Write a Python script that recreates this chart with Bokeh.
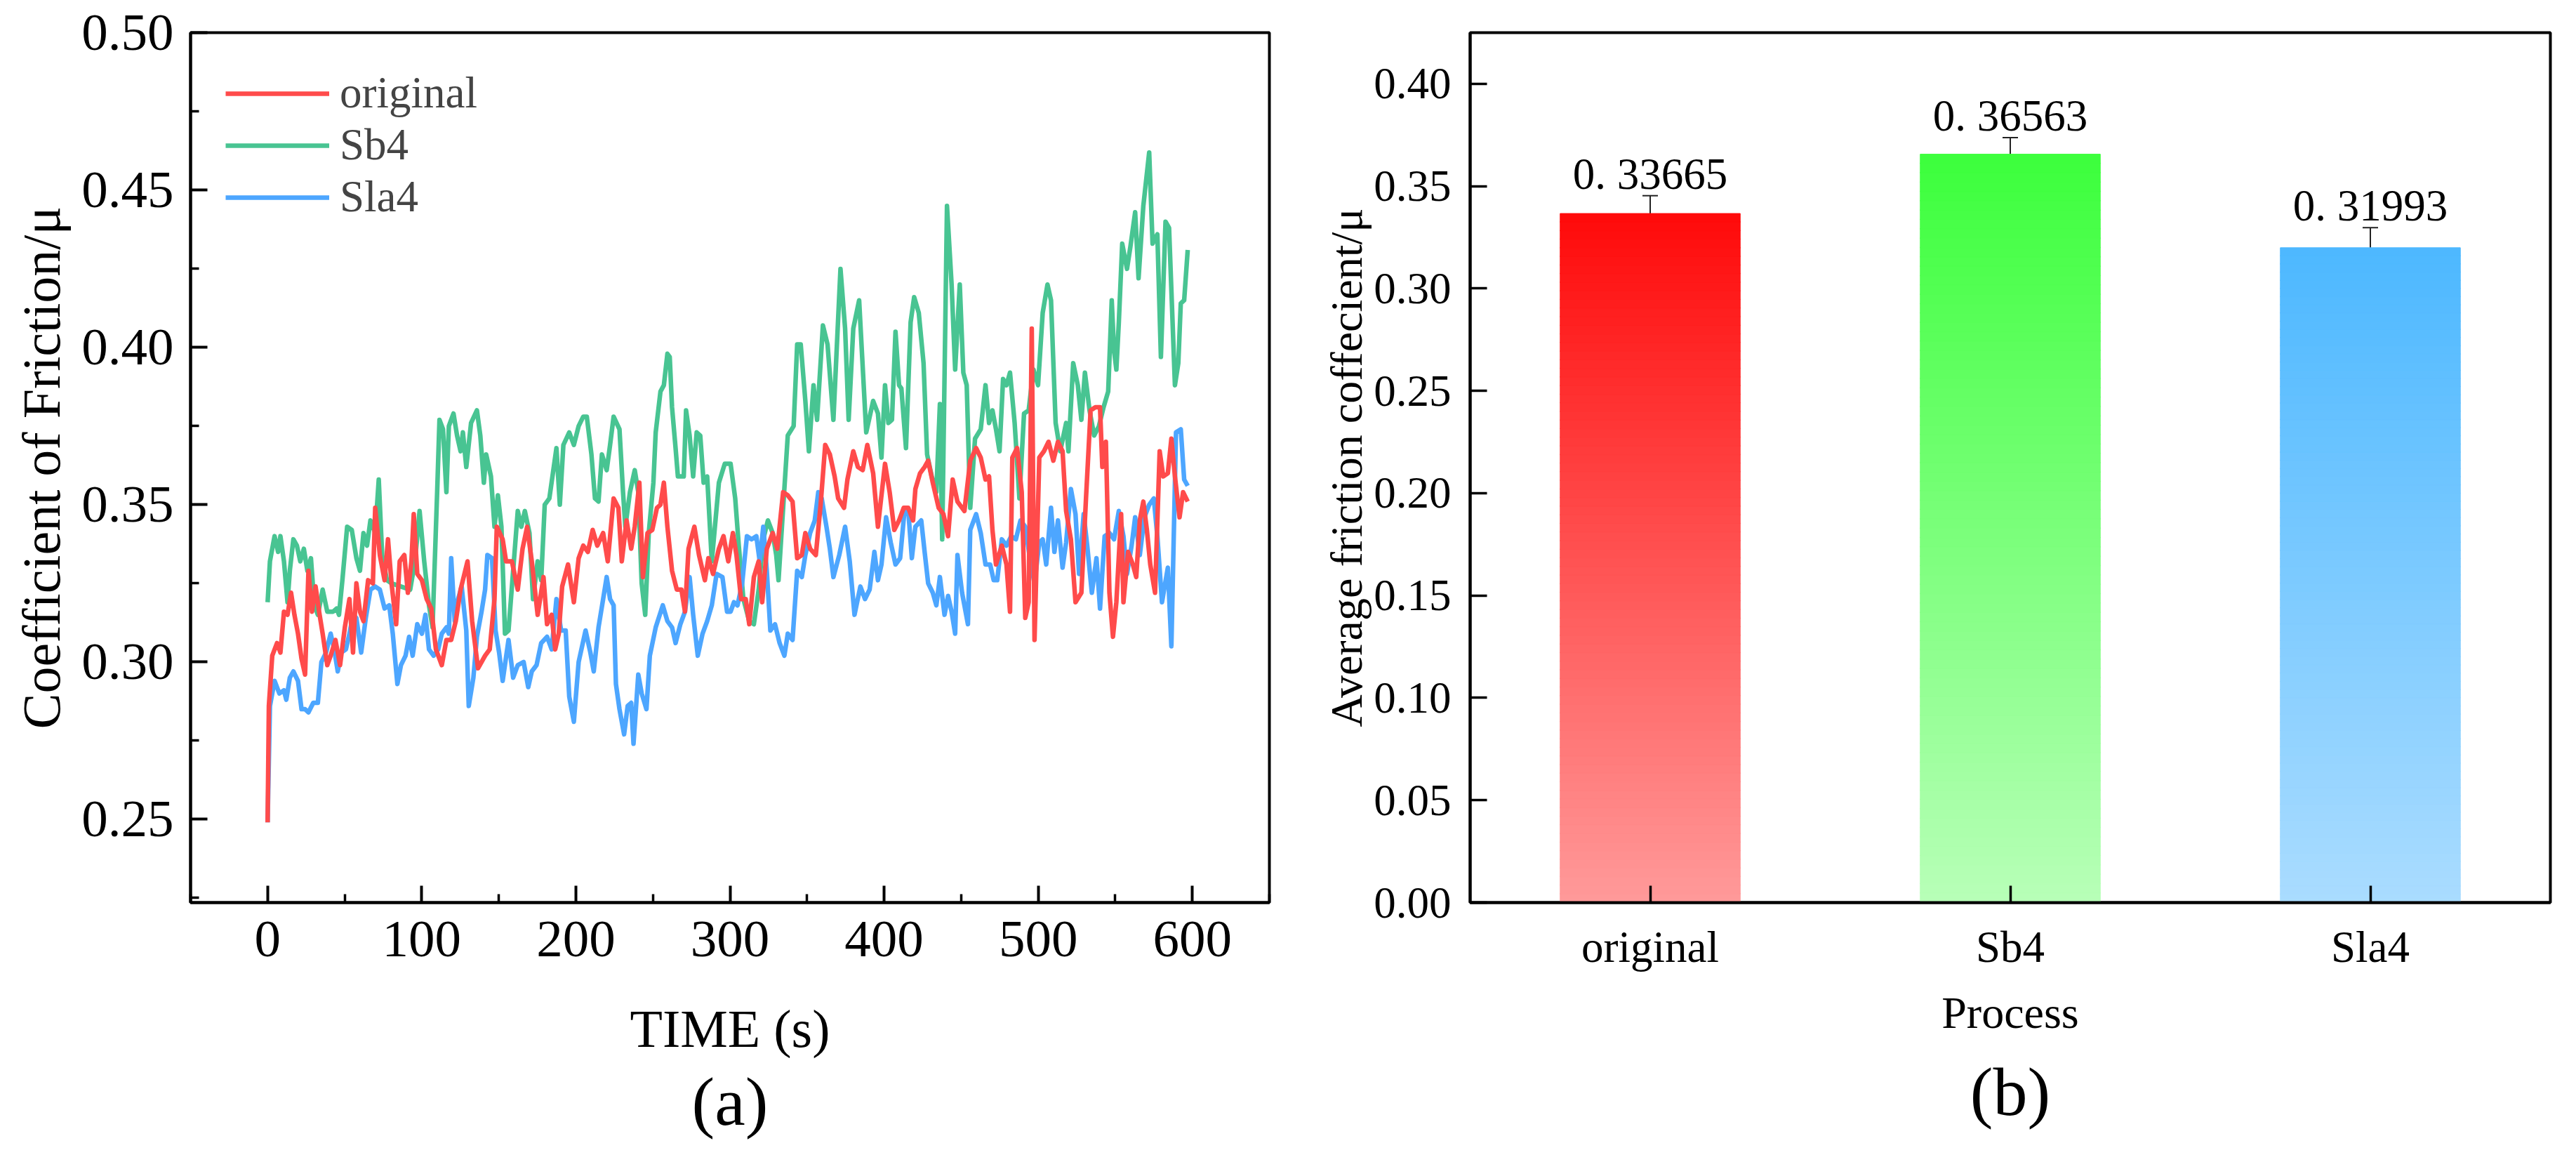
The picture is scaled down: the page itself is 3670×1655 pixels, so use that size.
from bokeh.plotting import figure
from bokeh.layouts import row
from bokeh.models import (Range1d, FactorRange, FixedTicker, Legend, LegendItem, Whisker,
                          TeeHead, LabelSet, ColumnDataSource, Title, PrintfTickFormatter)
from bokeh.core.properties import value
from bokeh.embed import file_html
from bokeh.resources import INLINE

FONT = "Liberation Serif"

# ---------------- data: panel (a) ----------------
t_original = [0, 0.8, 3.0, 6.1, 8.3, 10.6, 12.9, 15.2, 17.4, 19.7, 22.0, 24.3, 26.5, 28.8, 31.1, 33.4, 35.7, 38.7, 40.9, 44.0,
              47.0, 50.1, 53.1, 55.4, 57.6, 59.9, 62.2, 65.2, 68.3, 69.8, 72.8, 75.9, 78.1, 80.4, 83.4, 85.7, 88.7, 91.0, 93.3, 94.8,
              97.1, 100.1, 103.2, 106.2, 109.2, 113.0, 116.0, 119.1, 122.1, 125.2, 129.7, 132.7, 136.5, 141.1, 144.1, 147.2, 148.7, 152.5, 154.7, 158.5,
              162.3, 165.4, 168.4, 171.4, 175.2, 179.0, 181.3, 184.3, 186.6, 188.9, 191.1, 194.9,
              198.7, 201.8, 204.8, 207.8, 210.9, 213.9, 217.7, 220.7, 224.5, 227.6, 229.8, 232.9, 235.9, 238.2, 241.2, 243.5, 246.5, 249.6, 252.6, 254.9,
              257.1, 259.4, 262.4, 265.5, 268.5, 270.8, 273.1, 276.9, 279.9, 283.7, 286.0, 289.0, 292.8, 295.8, 298.9, 301.9, 304.2, 307.2, 310.2, 312.5,
              315.5, 318.6, 320.9, 323.9, 327.7, 330.7, 334.5, 337.5, 340.6, 343.6, 346.6, 348.9, 352.0, 355.7, 358.8, 361.8, 364.8, 367.9, 370.2, 374.0,
              376.2, 380.0, 383.0, 386.1, 389.1, 392.9,
              396.0, 400.6, 403.6, 406.6, 409.7, 412.7, 415.7, 418.8, 420.3, 423.3, 426.3, 428.6, 431.6, 435.4, 438.5, 441.5, 444.5, 447.6, 452.1, 455.9,
              459.7, 462.7, 465.8, 468.1, 470.3, 472.6, 476.4, 479.4, 481.7, 483.2, 486.3, 489.3, 491.6, 493.8, 495.8, 497.6, 500.7, 503.7, 506.7, 509.8,
              512.8, 515.8, 518.1, 521.2, 524.2, 528.0, 531.0, 534.0, 537.1, 540.1, 541.6, 543.9, 546.2, 548.5, 550.7, 553.8, 555.3, 558.3, 561.4, 563.6,
              565.9, 568.2, 570.5, 572.7, 575.8, 578.8, 581.1, 584.1, 586.4, 588.7, 591.7, 594.0, 597.0]
cof_original = [0.249, 0.286, 0.302, 0.306, 0.303, 0.316, 0.315, 0.322, 0.315, 0.309, 0.301, 0.296, 0.329, 0.316, 0.324, 0.316, 0.309, 0.299, 0.302, 0.307,
                0.299, 0.311, 0.320, 0.303, 0.325, 0.316, 0.313, 0.326, 0.325, 0.349, 0.334, 0.326, 0.339, 0.325, 0.312, 0.332, 0.334, 0.322, 0.332, 0.347,
                0.328, 0.326, 0.320, 0.317, 0.304, 0.299, 0.307, 0.307, 0.313, 0.323, 0.332, 0.313, 0.298, 0.302, 0.304, 0.320, 0.343, 0.339, 0.332, 0.332,
                0.323, 0.336, 0.343, 0.332, 0.315, 0.327, 0.312, 0.315, 0.304, 0.309, 0.324, 0.331,
                0.319, 0.333, 0.337, 0.335, 0.342, 0.337, 0.341, 0.332, 0.352, 0.349, 0.332, 0.345, 0.336, 0.343, 0.357, 0.327, 0.341, 0.342, 0.349, 0.350,
                0.357, 0.343, 0.329, 0.323, 0.323, 0.316, 0.336, 0.343, 0.334, 0.326, 0.333, 0.328, 0.336, 0.340, 0.332, 0.341, 0.334, 0.320, 0.320, 0.312,
                0.327, 0.332, 0.319, 0.336, 0.341, 0.336, 0.354, 0.353, 0.351, 0.333, 0.334, 0.341, 0.336, 0.334, 0.350, 0.369, 0.366, 0.359, 0.352, 0.349,
                0.358, 0.367, 0.362, 0.361, 0.369, 0.360,
                0.343, 0.363, 0.354, 0.342, 0.345, 0.349, 0.349, 0.345, 0.355, 0.360, 0.362, 0.364, 0.357, 0.349, 0.347, 0.340, 0.358, 0.351, 0.348, 0.364,
                0.368, 0.365, 0.358, 0.359, 0.342, 0.331, 0.337, 0.331, 0.316, 0.365, 0.368, 0.354, 0.314, 0.319, 0.406, 0.307, 0.365, 0.367, 0.370, 0.364,
                0.370, 0.367, 0.348, 0.339, 0.319, 0.322, 0.352, 0.380, 0.381, 0.381, 0.362, 0.370, 0.322, 0.308, 0.319, 0.347, 0.319, 0.335, 0.331, 0.327,
                0.345, 0.351, 0.342, 0.331, 0.322, 0.367, 0.359, 0.360, 0.371, 0.359, 0.346, 0.354, 0.351]

t_sb4 = [0, 1.5, 4.5, 6.8, 8.3, 10.6, 12.9, 14.4, 16.7, 19.0, 21.2, 23.5, 25.8, 28.1, 30.3, 32.6, 35.7, 38.7, 42.5, 44.8,
         46.3, 48.5, 51.6, 54.6, 57.6, 59.9, 62.2, 64.5, 66.7, 69.8, 72.1, 74.3, 77.4, 80.4, 86.5, 92.5, 95.6, 98.6, 101.6, 104.7,
         107.0, 110.0, 111.5, 113.8, 116.0, 117.6, 120.6, 122.9, 125.2, 126.7, 128.9, 132.0, 135.8, 138.0, 140.3, 141.8, 144.9, 147.2, 149.4, 151.7,
         154.0, 156.3, 159.3, 162.3, 164.6, 166.9, 169.9, 172.2, 175.2, 177.5, 179.8, 182.8, 185.1, 187.4, 189.6, 191.9, 195.7,
         198.7, 201.8, 204.8, 207.1, 210.1, 212.4, 214.7, 216.9, 220.0, 222.2, 224.5, 228.3, 230.6, 232.1, 235.1, 238.2, 240.5, 242.7, 245.0, 247.3,
         250.3, 251.8, 254.9, 257.1, 259.4, 260.9, 262.4, 264.7, 266.2, 270.0, 271.5, 273.8, 276.1, 278.4, 280.7, 282.9, 285.2, 288.2, 292.8, 296.6,
         300.4, 303.4, 305.7, 308.7, 312.5, 315.5, 318.6, 321.6, 324.6, 327.7, 330.0, 331.5, 333.7, 337.5, 341.3, 343.6, 345.9, 348.9, 351.2, 354.2,
         356.5, 360.3, 363.3, 367.1, 371.7, 374.7, 377.0, 380.0, 383.8, 388.4, 392.9,
         396.0, 398.3, 400.6, 402.8, 405.1, 407.4, 409.7, 411.2, 414.2, 417.2, 419.5, 422.5, 425.6, 427.9, 430.9, 433.9, 436.2, 437.7, 440.8, 443.8,
         446.1, 449.1, 451.4, 453.6, 455.9, 459.0, 462.7, 465.8, 468.1, 470.3, 472.6, 474.9, 477.2, 479.4, 481.7, 484.7, 487.8, 490.8, 493.8, 496.9,
         499.9, 502.9, 506.0, 508.3, 511.3, 514.3, 518.1, 519.6, 522.7, 525.7, 528.0, 530.3, 533.3, 536.3, 539.4, 542.4, 545.4, 547.7, 549.2, 550.7,
         552.3, 554.5, 557.6, 559.8, 562.9, 565.1, 568.2, 572.0, 574.2, 577.3, 579.6, 582.6, 584.9, 588.7, 590.9, 592.5, 594.7, 597.0]
cof_sb4 = [0.319, 0.332, 0.340, 0.335, 0.340, 0.332, 0.319, 0.329, 0.339, 0.337, 0.332, 0.336, 0.329, 0.333, 0.318, 0.315, 0.323, 0.316, 0.316, 0.317,
           0.315, 0.326, 0.343, 0.342, 0.333, 0.329, 0.341, 0.337, 0.345, 0.341, 0.358, 0.334, 0.326, 0.325, 0.324, 0.323, 0.332, 0.348, 0.332, 0.318,
           0.311, 0.354, 0.377, 0.374, 0.354, 0.375, 0.379, 0.372, 0.367, 0.373, 0.362, 0.376, 0.380, 0.372, 0.357, 0.366, 0.359, 0.343, 0.353, 0.343,
           0.309, 0.310, 0.329, 0.348, 0.343, 0.348, 0.341, 0.320, 0.332, 0.326, 0.350, 0.352, 0.360, 0.368, 0.350, 0.369, 0.373,
           0.369, 0.375, 0.378, 0.378, 0.366, 0.352, 0.351, 0.366, 0.361, 0.369, 0.378, 0.374, 0.354, 0.343, 0.354, 0.361, 0.354, 0.325, 0.315, 0.341,
           0.357, 0.373, 0.386, 0.388, 0.398, 0.397, 0.381, 0.368, 0.359, 0.359, 0.380, 0.372, 0.359, 0.373, 0.372, 0.357, 0.359, 0.332, 0.357, 0.363,
           0.363, 0.352, 0.337, 0.320, 0.313, 0.312, 0.323, 0.339, 0.345, 0.341, 0.334, 0.326, 0.343, 0.372, 0.375, 0.401, 0.401, 0.383, 0.367, 0.388,
           0.377, 0.407, 0.401, 0.377, 0.425, 0.406, 0.377, 0.406, 0.415, 0.373, 0.383,
           0.379, 0.365, 0.388, 0.376, 0.377, 0.405, 0.388, 0.387, 0.368, 0.408, 0.416, 0.411, 0.395, 0.366, 0.359, 0.354, 0.382, 0.339, 0.445, 0.420,
           0.393, 0.420, 0.392, 0.388, 0.349, 0.371, 0.374, 0.388, 0.376, 0.380, 0.374, 0.367, 0.390, 0.388, 0.392, 0.376, 0.352, 0.379, 0.380, 0.393,
           0.388, 0.411, 0.420, 0.415, 0.376, 0.367, 0.376, 0.367, 0.395, 0.388, 0.377, 0.392, 0.380, 0.372, 0.375, 0.381, 0.386, 0.415, 0.399, 0.393,
           0.408, 0.433, 0.425, 0.432, 0.443, 0.422, 0.445, 0.462, 0.433, 0.436, 0.397, 0.440, 0.438, 0.388, 0.395, 0.414, 0.415, 0.431]

t_sla4 = [0, 1.5, 4.5, 7.6, 10.6, 12.1, 14.4, 16.7, 19.7, 22.0, 24.3, 26.5, 29.6, 32.6, 34.9, 37.9, 40.9, 43.2, 45.5, 47.8,
          50.8, 53.1, 55.4, 57.6, 60.7, 63.7, 66.7, 69.8, 72.8, 75.9, 78.9, 81.2, 84.2, 86.5, 89.5, 91.8, 94.1, 97.1, 100.1, 102.4,
          104.7, 107.7, 110.7, 113.0, 116.0, 117.6, 119.1, 121.4, 123.6, 125.9, 128.9, 130.5, 133.5, 135.8, 138.8, 141.1, 142.6, 145.6, 147.9, 150.2,
          152.5, 156.3, 159.3, 162.3, 166.1, 169.1, 171.4, 174.5, 177.5, 181.3, 184.3, 187.4, 190.4, 193.4,
          195.7, 198.7, 201.8, 206.3, 209.4, 211.6, 214.7, 217.7, 220.0, 222.2, 224.5, 226.0, 228.3, 231.3, 233.6, 235.9, 237.4, 240.5, 242.7, 245.8,
          248.0, 251.8, 256.4, 259.4, 262.4, 264.7, 267.8, 270.8, 273.8, 276.1, 279.1, 282.2, 285.2, 288.2, 291.3, 295.1, 298.1, 300.4, 302.6, 304.9,
          307.9, 311.0, 314.0, 317.1, 319.3, 321.6, 323.9, 326.2, 329.2, 332.2, 335.3, 337.5, 340.6, 343.6, 346.6, 348.9, 352.0, 355.0, 357.3, 359.5,
          362.6, 364.8, 367.1, 370.9, 374.7, 377.7, 380.8, 384.6, 387.6, 390.6, 393.7,
          396.0, 398.3, 401.3, 404.3, 407.4, 410.4, 413.4, 415.7, 418.0, 420.3, 424.1, 426.3, 428.6, 431.6, 433.9, 436.2, 439.2, 441.5, 443.8, 446.1,
          447.6, 450.6, 454.4, 455.9, 459.7, 462.7, 465.8, 468.8, 471.1, 473.4, 476.4, 479.4, 482.5, 485.5, 488.5, 491.6, 494.6, 497.6, 500.7, 502.9,
          505.2, 508.3, 510.5, 512.8, 515.8, 518.1, 521.2, 524.2, 526.5, 529.5, 531.8, 534.8, 537.8, 540.1, 543.1, 546.2, 549.2, 552.3, 555.3, 557.6,
          560.6, 562.9, 565.9, 568.9, 572.0, 575.0, 577.3, 580.3, 584.1, 586.4, 589.4, 592.5, 594.7, 597.0]
cof_sla4 = [0.249, 0.286, 0.294, 0.290, 0.291, 0.288, 0.295, 0.297, 0.294, 0.285, 0.285, 0.284, 0.287, 0.287, 0.300, 0.303, 0.309, 0.304, 0.297, 0.303,
            0.304, 0.309, 0.315, 0.314, 0.303, 0.314, 0.323, 0.324, 0.323, 0.317, 0.318, 0.309, 0.293, 0.299, 0.302, 0.308, 0.302, 0.312, 0.309, 0.315,
            0.304, 0.302, 0.304, 0.309, 0.311, 0.309, 0.333, 0.313, 0.320, 0.324, 0.310, 0.286, 0.295, 0.308, 0.316, 0.323, 0.334, 0.333, 0.310, 0.303,
            0.294, 0.307, 0.295, 0.299, 0.300, 0.292, 0.297, 0.299, 0.306, 0.308, 0.304, 0.320, 0.310, 0.310,
            0.289, 0.281, 0.300, 0.310, 0.303, 0.297, 0.311, 0.320, 0.327, 0.320, 0.318, 0.293, 0.285, 0.277, 0.286, 0.287, 0.274, 0.296, 0.290, 0.285,
            0.302, 0.311, 0.318, 0.313, 0.311, 0.306, 0.312, 0.316, 0.327, 0.315, 0.302, 0.309, 0.313, 0.318, 0.328, 0.327, 0.316, 0.316, 0.319, 0.318,
            0.325, 0.340, 0.339, 0.340, 0.332, 0.343, 0.329, 0.310, 0.312, 0.306, 0.302, 0.309, 0.307, 0.329, 0.327, 0.334, 0.341, 0.345, 0.354, 0.352,
            0.343, 0.336, 0.327, 0.334, 0.343, 0.332, 0.315, 0.324, 0.320, 0.323, 0.335,
            0.326, 0.331, 0.346, 0.338, 0.331, 0.333, 0.349, 0.348, 0.333, 0.343, 0.345, 0.335, 0.325, 0.322, 0.318, 0.327, 0.315, 0.321, 0.316, 0.309,
            0.334, 0.322, 0.312, 0.342, 0.347, 0.341, 0.331, 0.331, 0.326, 0.326, 0.339, 0.337, 0.340, 0.339, 0.345, 0.343, 0.333, 0.325, 0.338, 0.339,
            0.331, 0.349, 0.335, 0.345, 0.330, 0.338, 0.355, 0.347, 0.328, 0.347, 0.337, 0.322, 0.333, 0.317, 0.340, 0.341, 0.339, 0.348, 0.340, 0.328,
            0.337, 0.346, 0.334, 0.346, 0.350, 0.352, 0.340, 0.319, 0.330, 0.305, 0.373, 0.374, 0.358, 0.356]

x_ticks_a = [0, 100, 200, 300, 400, 500, 600]
y_ticks_a = [0.25, 0.30, 0.35, 0.40, 0.45, 0.50]

# ---------------- data: panel (b) ----------------
processes = ["original", "Sb4", "Sla4"]
avg_cof = [0.33665, 0.36563, 0.31993]
cof_err = [0.0087, 0.0081, 0.0098]
bar_top_colors = [(255, 10, 10), (60, 255, 60), (77, 184, 255)]
bar_bottom_colors = [(255, 154, 154), (184, 255, 184), (170, 220, 255)]
y_ticks_b = [0.00, 0.05, 0.10, 0.15, 0.20, 0.25, 0.30, 0.35, 0.40]

line_colors = {"original": "#FF4B4B", "Sb4": "#48C492", "Sla4": "#4DA6FF"}

# ---------------- panel (a) ----------------
p1 = figure(frame_width=1537, frame_height=1239, x_range=Range1d(-50, 650), y_range=Range1d(0.2235, 0.5001),
            output_backend="svg", toolbar_location=None,
            min_border_left=271, min_border_right=19, min_border_top=46, min_border_bottom=354)
p1.xgrid.visible = False
p1.ygrid.visible = False
p1.outline_line_color = "black"
p1.outline_line_width = 4
p1.outline_line_alpha = 1

LW = 6.5
r_sb4 = p1.line(t_sb4, cof_sb4, line_color=line_colors["Sb4"], line_width=LW, line_join="round")
r_sla4 = p1.line(t_sla4, cof_sla4, line_color=line_colors["Sla4"], line_width=LW, line_join="round")
r_orig = p1.line(t_original, cof_original, line_color=line_colors["original"], line_width=LW, line_join="round")

p1.xaxis.ticker = FixedTicker(ticks=x_ticks_a, minor_ticks=[t + 50 for t in [-100] + x_ticks_a])
p1.yaxis.ticker = FixedTicker(ticks=y_ticks_a, minor_ticks=[round(v - 0.025, 3) for v in y_ticks_a])
p1.yaxis.formatter = PrintfTickFormatter(format="%.2f")
p1.xaxis.axis_label = "TIME (s)"
p1.yaxis.axis_label = "Coefficient of Friction/\u03bc"

for ax in (p1.xaxis[0], p1.yaxis[0]):
    ax.axis_line_width = 4
    ax.major_tick_in = 24
    ax.major_tick_out = 0
    ax.minor_tick_in = 12
    ax.minor_tick_out = 0
    ax.major_tick_line_width = 4
    ax.minor_tick_line_width = 3.5
    ax.major_label_text_font = FONT
    ax.major_label_text_font_size = "75px"
    ax.major_label_text_color = "black"
    ax.axis_label_text_font = FONT
    ax.axis_label_text_font_size = "76px"
    ax.axis_label_text_font_style = "normal"
    ax.axis_label_text_color = "black"
p1.yaxis.major_label_standoff = 24
p1.xaxis.major_label_standoff = 27
p1.xaxis.axis_label_standoff = 58
p1.yaxis.axis_label_standoff = 12

legend = Legend(items=[LegendItem(label="original", renderers=[r_orig]),
                       LegendItem(label="Sb4", renderers=[r_sb4]),
                       LegendItem(label="Sla4", renderers=[r_sla4])],
                location="top_left", margin=10, padding=40, spacing=1,
                glyph_width=148, glyph_height=60, label_standoff=15,
                label_text_font=FONT, label_text_font_size="63px",
                border_line_alpha=0, background_fill_alpha=0)
p1.add_layout(legend)

p1.add_layout(Title(text="(a)", align="center", offset=-31, standoff=6, text_font=FONT,
                    text_font_size="98px", text_font_style="normal", text_color="black"), "below")

# ---------------- panel (b) ----------------
p2 = figure(frame_width=1539, frame_height=1239, x_range=FactorRange(factors=processes, range_padding=0),
            y_range=Range1d(0, 0.425), output_backend="svg", toolbar_location=None,
            min_border_left=267, min_border_right=21, min_border_top=46, min_border_bottom=354)
p2.xgrid.visible = False
p2.ygrid.visible = False
p2.outline_line_color = "black"
p2.outline_line_width = 4
p2.outline_line_alpha = 1

N = 80
seg_x, seg_bottom, seg_top, seg_color = [], [], [], []
for cat, val, ctop, cbot in zip(processes, avg_cof, bar_top_colors, bar_bottom_colors):
    for k in range(N):
        f = (k + 0.5) / N
        rgb = tuple(int(round(cbot[j] + (ctop[j] - cbot[j]) * f)) for j in range(3))
        seg_x.append(cat)
        seg_bottom.append(val * k / N)
        seg_top.append(min(val, val * (k + 1.05) / N))
        seg_color.append("#%02x%02x%02x" % rgb)
bars = ColumnDataSource(dict(x=seg_x, bottom=seg_bottom, top=seg_top, color=seg_color))
p2.vbar(x="x", bottom="bottom", top="top", width=0.5, fill_color="color", line_color="color",
        line_width=1, source=bars)

err_src = ColumnDataSource(dict(
    base=processes,
    upper=[m + e for m, e in zip(avg_cof, cof_err)],
    lower=[m - e for m, e in zip(avg_cof, cof_err)],
    label=[("%.5f" % m).replace(".", ". ") for m in avg_cof]))
p2.add_layout(Whisker(source=err_src, base="base", upper="upper", lower="lower",
                      line_color="#222222", line_width=2,
                      upper_head=TeeHead(size=22, line_color="#222222", line_width=2),
                      lower_head=TeeHead(size=22, line_color="#222222", line_width=2)))
p2.add_layout(LabelSet(source=err_src, x="base", y="upper", text="label", y_offset=10,
                       text_align="center", text_baseline="alphabetic",
                       text_font=value(FONT), text_font_size="63px", text_color="black"))

p2.yaxis.ticker = FixedTicker(ticks=y_ticks_b, minor_ticks=[])
p2.yaxis.formatter = PrintfTickFormatter(format="%.2f")
p2.xaxis.axis_label = "Process"
p2.yaxis.axis_label = "Average friction coffecient/\u03bc"
for ax in (p2.xaxis[0], p2.yaxis[0]):
    ax.axis_line_width = 4
    ax.major_tick_in = 24
    ax.major_tick_out = 0
    ax.minor_tick_in = 0
    ax.minor_tick_out = 0
    ax.major_tick_line_width = 3.5
    ax.major_label_text_font = FONT
    ax.major_label_text_font_size = "63px"
    ax.major_label_text_color = "black"
    ax.axis_label_text_font = FONT
    ax.axis_label_text_font_size = "64px"
    ax.axis_label_text_font_style = "normal"
    ax.axis_label_text_color = "black"
p2.yaxis.major_label_standoff = 27
p2.xaxis.major_label_standoff = 28
p2.xaxis.axis_label_standoff = 20
p2.yaxis.axis_label_standoff = 0

p2.add_layout(Title(text="(b)", align="center", offset=-16, standoff=36, text_font=FONT,
                    text_font_size="98px", text_font_style="normal", text_color="black"), "below")

layout = row(p1, p2, spacing=0)
open("out.html", "w").write(file_html(layout, INLINE))
